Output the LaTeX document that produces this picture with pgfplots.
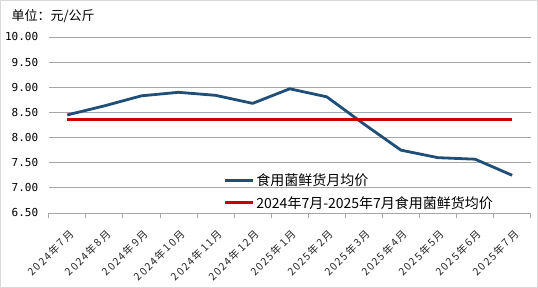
\documentclass[border=0pt]{standalone}
\usepackage{pgfplots}
\pgfplotsset{compat=1.18}
\usepackage{fontspec}
\setmainfont{Noto Sans CJK SC}
\newfontfamily\monofont{DejaVu Sans Mono}
\newfontfamily\tickfont[LetterSpace=14]{Noto Sans CJK SC}
\definecolor{seriesblue}{HTML}{1F4E79}
\definecolor{avgred}{HTML}{C80000}
\definecolor{gridgray}{HTML}{A6A6A6}
\definecolor{framegray}{HTML}{D9D9D9}

% monthly mean price of fresh edible fungi (yuan/kg)
\pgfplotstableread{
x price
0  8.45
1  8.63
2  8.83
3  8.90
4  8.84
5  8.68
6  8.97
7  8.81
8  8.27
9  7.75
10 7.60
11 7.57
12 7.25
}\monthly

% period mean, Jul 2024 - Jul 2025
\pgfplotstableread{
x price
0  8.35
12 8.35
}\average

\begin{document}
\begin{tikzpicture}[x=1pt,y=1pt]
\useasboundingbox (0,0) rectangle (538,288);
\draw[framegray,line width=1pt] (0.5,0.5) rectangle (537.5,287.5);
\node[anchor=west,font=\fontsize{13}{13}\selectfont] at (8,272) {单位：元/公斤};
\begin{axis}[
  at={(48.7pt,75pt)}, anchor=south west,
  scale only axis, width=482pt, height=176pt,
  xmin=-0.5, xmax=12.5, ymin=6.5, ymax=10,
  axis x line*=bottom, axis y line*=left,
  y axis line style={draw=none},
  x axis line style={gridgray, line width=0.8pt, -},
  ytick={6.5,7,...,10},
  yticklabel style={font=\monofont\fontsize{11}{11}\selectfont, xshift=-2pt},
  yticklabel={\pgfmathprintnumber[fixed,fixed zerofill,precision=2,assume math mode=true]{\tick}},
  ytick style={draw=none},
  ymajorgrids, grid style={gridgray, line width=0.8pt},
  xtick={-0.5,0.5,...,12.5},
  xticklabels={},
  xtick style={gridgray, line width=0.8pt},
  tick align=outside, major tick length=5pt,
  extra x ticks={0,...,12},
  extra x tick labels={2024年7月,2024年8月,2024年9月,2024年10月,2024年11月,2024年12月,2025年1月,2025年2月,2025年3月,2025年4月,2025年5月,2025年6月,2025年7月},
  extra x tick style={major tick length=0pt, grid=none,
    xticklabel style={xshift=1pt, yshift=-14pt, rotate=45, anchor=north east, font=\tickfont\fontsize{10.5}{10.5}\selectfont, text=black!85, inner sep=1pt}},
  legend style={at={(0.36,0.24)}, anchor=north west, draw=none, fill=none,
    font=\fontsize{14}{14}\selectfont, row sep=5pt, inner sep=1pt,
    /tikz/every even column/.append style={column sep=2pt}},
  legend cell align=left,
  legend image code/.code={\draw[#1, line width=3pt] (0pt,0pt) -- (28pt,0pt);},
  clip=false,
]
\addplot[seriesblue, line width=2.8pt, line join=round] table[x=x,y=price]{\monthly};
\addlegendentry{食用菌鲜货月均价}
\addplot[avgred, line width=3pt] table[x=x,y=price]{\average};
\addlegendentry{2024年7月-2025年7月食用菌鲜货均价}
\end{axis}
\end{tikzpicture}
\end{document}
